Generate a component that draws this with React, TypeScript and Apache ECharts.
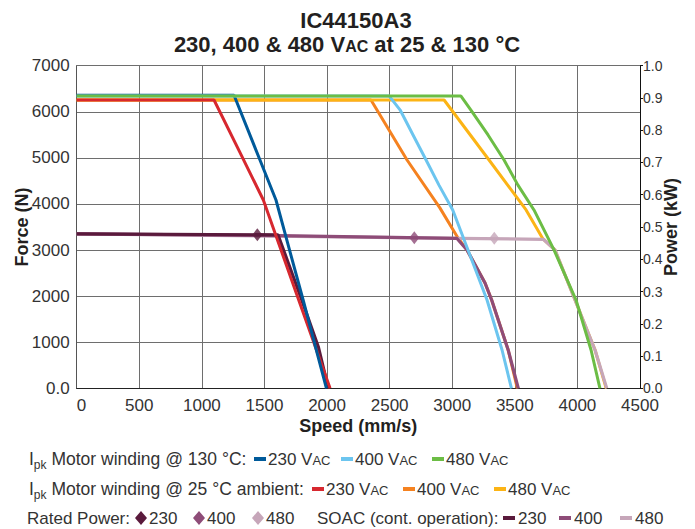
import React, { useEffect, useRef } from 'react';
import * as echarts from 'echarts';

const FONT = '"Liberation Sans", Arial, sans-serif';

// Axis ticks
const speedTicks = [0, 500, 1000, 1500, 2000, 2500, 3000, 3500, 4000, 4500];
const forceMax = 7000;
const powerMax = 1.0;

// Ipk motor winding @ 130 °C
const hot230Speed = [0, 1257, 1464, 1592, 1700, 1809, 1995];
const hot230Force = [6360, 6360, 4954, 4086, 3002, 1916, 0];
const hot400Speed = [0, 2497, 2583, 2687, 2791, 2894, 3004, 3126, 3278, 3398, 3473];
const hot400Force = [6340, 6340, 6043, 5497, 4954, 4409, 3870, 3002, 1916, 831, 0];
const hot480Speed = [0, 3070, 3148, 3286, 3414, 3525, 3653, 3813, 3989, 4109, 4180];
const hot480Force = [6340, 6340, 6043, 5497, 4954, 4409, 3870, 3002, 1916, 831, 0];

// Ipk motor winding @ 25 °C ambient
const amb230Speed = [0, 1097, 1300, 1491, 1760, 2024];
const amb230Force = [6256, 6256, 5140, 4086, 2020, 0];
const amb400Speed = [0, 2351, 2639, 2900, 3046, 3118, 3262, 3315, 3447, 3520];
const amb400Force = [6256, 6256, 4954, 3920, 3262, 3002, 2285, 1916, 831, 0];
const amb480Speed = [0, 2935, 3294, 3590, 3725, 3821, 3981, 4141, 4230];
const amb480Force = [6256, 6256, 4954, 3870, 3240, 3002, 1916, 831, 0];

// SOAC (continuous operation)
const soac230Speed = [0, 1608, 1798, 1930, 2010];
const soac230Force = [3350, 3330, 1916, 903, 0];
const soac400Speed = [0, 1608, 3036, 3118, 3262, 3315, 3447, 3528];
const soac400Force = [3350, 3312, 3255, 3002, 2285, 1916, 831, 0];
const soac480Speed = [0, 3036, 3728, 3821, 3981, 4141, 4234];
const soac480Force = [3350, 3255, 3233, 3002, 1916, 831, 0];

// Rated power (kW)
const ratedLabels = ['230', '400', '480'];
const ratedSpeed = [1443, 2697, 3336];
const ratedPower = [0.476, 0.467, 0.465];

const C = {
  hot230: '#005a9a',
  hot400: '#6cc5ef',
  hot480: '#6cbd45',
  amb230: '#d7282f',
  amb400: '#f58220',
  amb480: '#fcb415',
  s230: '#5a1a3c',
  s400: '#8e4c78',
  s480: '#c6a6b9',
};

const pair = (xs: number[], ys: number[]) => xs.map((x, i) => [x, ys[i]]);

const line = (name: string, xs: number[], ys: number[], color: string, width = 3) => ({
  name,
  type: 'line',
  data: pair(xs, ys),
  showSymbol: false,
  symbol: 'none',
  lineStyle: { color, width },
  itemStyle: { color },
  silent: true,
});

const TXT = '#333';
const DARK = '#231f20';

let measureCtx: CanvasRenderingContext2D | null = null;
function tw(text: string, size: number, weight = 'normal') {
  if (!measureCtx) measureCtx = document.createElement('canvas').getContext('2d');
  measureCtx!.font = `${weight} ${size}px "Liberation Sans"`;
  return measureCtx!.measureText(text).width;
}

type Seg = { t: string; size: number; dy?: number };

// Lays out text pieces on a shared baseline, y is the centre of the main text.
function runs(x: number, y: number, segs: Seg[], mainSize: number, weight: string, fill: string, align: 'left' | 'center' = 'left') {
  const widths = segs.map((s) => tw(s.t, s.size, weight));
  const total = widths.reduce((a, b) => a + b, 0);
  let cx = align === 'center' ? x - total / 2 : x;
  const out: any[] = [];
  segs.forEach((s, i) => {
    const yy = y + 0.3465 * (mainSize - s.size) + (s.dy || 0);
    out.push({
      type: 'text',
      x: cx,
      y: yy,
      style: { text: s.t, fontFamily: FONT, fontSize: s.size, fontWeight: weight, fill, align: 'left', verticalAlign: 'middle' },
    });
    cx += widths[i];
  });
  return out;
}

const rows = [459, 489, 518];
const LS = 17;
const PS = 17.5;

function legendItems(): any[] {
  const g: any[] = [];
  const vac = (t: string): Seg[] => [{ t: `${t} V`, size: LS }, { t: 'AC', size: 13 }];
  // Row 1
  g.push(...runs(29, rows[0], [{ t: 'I', size: PS }, { t: 'pk', size: 12, dy: 4 }, { t: ' Motor winding @ 130 °C:', size: PS }], PS, 'normal', TXT));
  [
    [254, C.hot230, '230'],
    [341, C.hot400, '400'],
    [432, C.hot480, '480'],
  ].forEach(([x, c, t]: any) => {
    g.push({ type: 'rect', shape: { x, y: rows[0] - 2, width: 12, height: 4 }, style: { fill: c } });
    g.push(...runs(x + 14, rows[0], vac(t), LS, 'normal', TXT));
  });
  // Row 2
  g.push(...runs(29, rows[1], [{ t: 'I', size: PS }, { t: 'pk', size: 12, dy: 4 }, { t: ' Motor winding @ 25 °C ambient:', size: PS }], PS, 'normal', TXT));
  [
    [312, C.amb230, '230'],
    [403, C.amb400, '400'],
    [494, C.amb480, '480'],
  ].forEach(([x, c, t]: any) => {
    g.push({ type: 'rect', shape: { x, y: rows[1] - 2, width: 12, height: 4 }, style: { fill: c } });
    g.push(...runs(x + 14, rows[1], vac(t), LS, 'normal', TXT));
  });
  // Row 3
  g.push(...runs(27, rows[2], [{ t: 'Rated Power:', size: LS }], LS, 'normal', TXT));
  [
    [141, C.s230, ratedLabels[0]],
    [199, C.s400, ratedLabels[1]],
    [258, C.s480, ratedLabels[2]],
  ].forEach(([cx, c, t]: any) => {
    const cy = rows[2];
    g.push({ type: 'polygon', shape: { points: [[cx, cy - 7], [cx + 6, cy], [cx, cy + 7], [cx - 6, cy]] }, style: { fill: c } });
    g.push(...runs(cx + 8, cy, [{ t, size: LS }], LS, 'normal', TXT));
  });
  g.push(...runs(317, rows[2], [{ t: 'SOAC (cont. operation):', size: LS }], LS, 'normal', TXT));
  [
    [503, C.s230, '230'],
    [559, C.s400, '400'],
    [620, C.s480, '480'],
  ].forEach(([x, c, t]: any) => {
    g.push({ type: 'rect', shape: { x, y: rows[2] - 2, width: 12, height: 4 }, style: { fill: c } });
    g.push(...runs(x + 15, rows[2], [{ t, size: LS }], LS, 'normal', TXT));
  });
  return g;
}

export default function App() {
  const ref = useRef<HTMLDivElement>(null);
  useEffect(() => {
    const chart = echarts.init(ref.current!, null, { renderer: 'svg' });
    const titleSize = 22;
    const option: any = {
      animation: false,
      backgroundColor: '#ffffff',
      grid: { left: 76.7, right: 55, top: 65.7, bottom: 140.7, containLabel: false, outerBoundsMode: 'none' },
      xAxis: {
        type: 'value',
        min: speedTicks[0],
        max: speedTicks[speedTicks.length - 1],
        interval: 500,
        name: 'Speed (mm/s)',
        nameLocation: 'middle',
        nameGap: 29,
        nameMoveOverlap: false,
        nameTextStyle: { fontFamily: FONT, fontWeight: 'bold', fontSize: 18, color: DARK },
        axisLine: { show: true, lineStyle: { color: '#222', width: 1 } },
        axisTick: { show: false },
        axisLabel: {
          fontFamily: FONT,
          fontSize: 17,
          color: TXT,
          margin: 9,
          alignMinLabel: 'left',
          formatter: (v: number) => String(v),
        },
        splitLine: { show: true, lineStyle: { color: '#6e6e6e', width: 1 } },
      },
      yAxis: [
        {
          type: 'value',
          min: 0,
          max: forceMax,
          interval: 1000,
          position: 'left',
          name: 'Force (N)',
          nameLocation: 'middle',
          nameRotate: 90,
          nameGap: 46,
          nameMoveOverlap: false,
          nameTextStyle: { fontFamily: FONT, fontWeight: 'bold', fontSize: 18, color: DARK },
          axisLine: { show: true, lineStyle: { color: '#555', width: 1 } },
          axisTick: { show: false },
          axisLabel: {
            fontFamily: FONT,
            fontSize: 17,
            color: TXT,
            margin: 7,
            formatter: (v: number) => (v === 0 ? '0.0' : String(v)),
          },
          splitLine: { show: true, lineStyle: { color: '#6e6e6e', width: 1 } },
        },
        {
          type: 'value',
          min: 0,
          max: powerMax,
          interval: 0.1,
          position: 'right',
          name: 'Power (kW)',
          nameLocation: 'middle',
          nameRotate: 90,
          nameGap: 22,
          nameMoveOverlap: false,
          nameTextStyle: { fontFamily: FONT, fontWeight: 'bold', fontSize: 18, color: DARK },
          axisLine: { show: true, lineStyle: { color: '#111', width: 1 } },
          axisTick: { show: true, inside: false, length: 3, lineStyle: { color: '#111' } },
          axisLabel: {
            fontFamily: FONT,
            fontSize: 14,
            color: TXT,
            margin: 3,
            formatter: (v: number) => v.toFixed(1),
          },
          splitLine: { show: false },
        },
      ],
      series: [
        line('25 °C 400 VAC', amb400Speed, amb400Force, C.amb400),
        line('25 °C 480 VAC', amb480Speed, amb480Force, C.amb480),
        line('SOAC 480', soac480Speed, soac480Force, C.s480, 3.2),
        line('SOAC 400', soac400Speed, soac400Force, C.s400, 3.2),
        line('SOAC 230', soac230Speed, soac230Force, C.s230, 3.2),
        line('25 °C 230 VAC', amb230Speed, amb230Force, C.amb230),
        line('130 °C 230 VAC', hot230Speed, hot230Force, C.hot230),
        line('130 °C 400 VAC', hot400Speed, hot400Force, C.hot400),
        line('130 °C 480 VAC', hot480Speed, hot480Force, C.hot480),
        {
          name: 'Rated Power',
          type: 'scatter',
          yAxisIndex: 1,
          symbol: 'diamond',
          symbolSize: [10, 13],
          silent: true,
          z: 5,
          data: ratedSpeed.map((s, i) => ({
            value: [s, ratedPower[i]],
            itemStyle: { color: [C.s230, C.s400, C.s480][i] },
          })),
        },
      ],
      graphic: [
        ...runs(356, 20, [{ t: 'IC44150A3', size: titleSize }], titleSize, 'bold', DARK, 'center'),
        ...runs(
          347,
          44,
          [
            { t: '230, 400 & 480 V', size: titleSize },
            { t: 'AC', size: 16 },
            { t: ' at 25 & 130 °C', size: titleSize },
          ],
          titleSize,
          'bold',
          DARK,
          'center'
        ),
        ...legendItems(),
      ],
    };
    chart.setOption(option);
    return () => chart.dispose();
  }, []);
  return (
    <div
      ref={ref}
      style={{ position: 'fixed', left: 0, top: 0, width: 695, height: 529, background: '#fff' }}
    />
  );
}
